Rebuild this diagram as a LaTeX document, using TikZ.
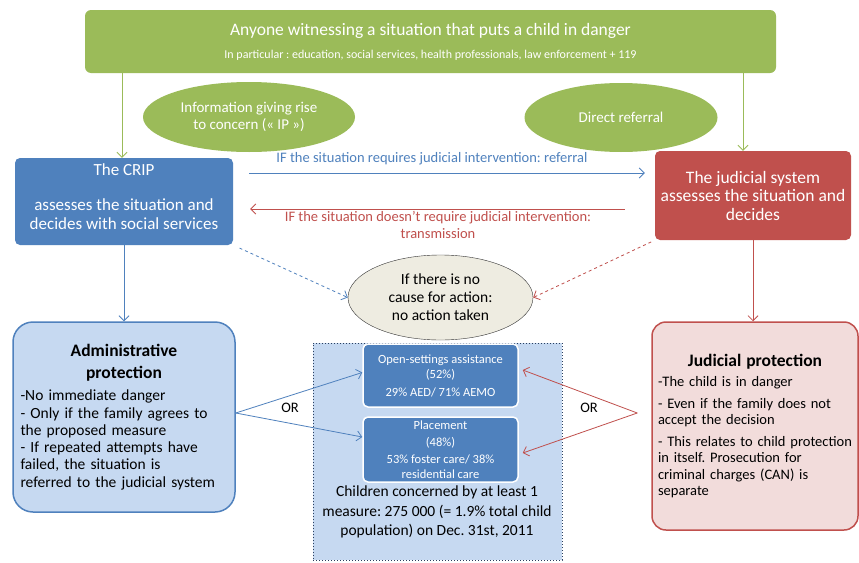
\documentclass[tikz,border=0pt]{standalone}
\usepackage{fontspec}
\setmainfont{Carlito}
\frenchspacing
\usetikzlibrary{shapes.geometric, arrows.meta, positioning}
\definecolor{leaf}{HTML}{9BBB59}
\definecolor{cripblue}{HTML}{4F81BD}
\definecolor{courtred}{HTML}{C0504D}
\definecolor{adminbg}{HTML}{C6D9F1}
\definecolor{courtbg}{HTML}{F2DCDB}
\definecolor{nullbg}{HTML}{EEECE1}
\definecolor{panelrim}{HTML}{2A3F5F}

\begin{document}
\begin{tikzpicture}[x=1pt, y=-1pt,
    box/.style={rectangle, rounded corners=5pt, text=white, align=center,
                font=\fontsize{17}{19}\selectfont},
    oval/.style={ellipse, fill=leaf, text=white, align=center,
                 font=\fontsize{15}{17}\selectfont},
    card/.style={rectangle, rounded corners=5pt, fill=cripblue, draw=white, line width=1.5pt,
                 text=white, align=center, minimum width=155pt, font=\fontsize{12.5}{15}\selectfont},
    plan/.style={rectangle, line width=1.5pt, align=left, font=\fontsize{15.5}{17.3}\selectfont},
    ba/.style={-{Straight Barb[length=5pt, width=10pt]}, color=cripblue, line width=0.8pt},
    ra/.style={-{Straight Barb[length=5pt, width=10pt]}, color=courtred, line width=0.8pt},
    ga/.style={-{Straight Barb[length=5pt, width=10pt]}, color=leaf, line width=0.8pt}
]
\useasboundingbox[fill=white] (0,0) rectangle (859,562);

% top row
\node[box, fill=leaf, rounded corners=6pt, minimum width=691pt, minimum height=63pt] (top) at (430.5,41.5)
  {{\fontsize{17.5}{18}\selectfont Anyone witnessing a situation that puts a child in danger}\\[4pt]
   {\fontsize{12}{12}\selectfont In particular : education, social services, health professionals, law enforcement + 119}};
\node[oval, minimum width=212pt, minimum height=70pt] (ip) at (249,117) {Information giving rise\\to concern (« IP »)};
\node[oval, minimum width=193pt, minimum height=69pt] (direct) at (621,117.5) {Direct referral};

% deciding bodies
\node[box, fill=cripblue, minimum width=218pt, minimum height=87pt] (crip) at (124,201.5)
  {The CRIP\\[16pt]assesses the situation and\\decides with social services\\[-9pt]\mbox{}};
\node[box, fill=courtred, minimum width=196pt, minimum height=89pt, font=\fontsize{17.5}{18.5}\selectfont] (jud) at (753,195.5)
  {The judicial system\\assesses the situation and\\decides};
\node[ellipse, draw=black!80, fill=nullbg, minimum width=185pt, minimum height=85pt, align=center,
      inner sep=1pt, font=\fontsize{15.5}{18}\selectfont] (noact) at (440.5,297.5) {If there is no\\cause for action:\\no action taken};

% protection
\node[plan, draw=cripblue, fill=adminbg, rounded corners=20pt, minimum width=222pt, minimum height=190pt,
      text width=207pt] (admin) at (124,417)
  {{\centering\bfseries\fontsize{17.5}{22}\selectfont Administrative\\protection\par}\vspace{5pt}
   -No immediate danger\\
   - Only if the family agrees to\\
   the proposed measure\\
   - If repeated attempts have\\
   failed, the situation is\\
   referred to the judicial system};
\node[plan, draw=courtred, fill=courtbg, rounded corners=14pt, minimum width=206pt, minimum height=208pt,
      text width=194pt, font=\fontsize{14.5}{16.5}\selectfont] (jp) at (755,426)
  {{\centering\bfseries\fontsize{17.5}{22}\selectfont Judicial protection\par}\vspace{4pt}
   -The child is in danger\\[5pt]
   - Even if the family does not\\
   accept the decision\\[5pt]
   - This relates to child protection\\
   in itself. Prosecution for\\
   criminal charges (CAN) is\\
   separate};

% measures
\node[draw=panelrim, dotted, line width=1pt, fill=adminbg, minimum width=249pt, minimum height=217pt] (panel) at (437.5,451.5) {};
\node[card, minimum height=63pt] (open) at (440.5,375.5)
  {Open-settings assistance\\(52\%)\\[3pt]29\% AED/ 71\% AEMO};
\node[card, minimum height=65pt] (place) at (440.5,449.5)
  {Placement\\[2pt](48\%)\\[2pt]53\% foster care/ 38\%\\residential care};
\node[align=center, font=\fontsize{15.5}{19.5}\selectfont] (count) at (437,512)
  {Children concerned by at least 1\\measure: 275 000 (= 1.9\% total child\\population) on Dec. 31st, 2011};
\node[font=\fontsize{14.5}{14}\selectfont] (orleft) at (290,408) {OR};
\node[font=\fontsize{14.5}{14}\selectfont] (orright) at (589,408) {OR};

% connectors
\draw[ga] ([xshift=-2pt, yshift=85pt]crip.north) -- ([xshift=-2pt]crip.north);
\draw[ga] ([xshift=-10pt, yshift=78pt]jud.north) -- ([xshift=-10pt]jud.north);
\draw[ba, shorten <=16pt, shorten >=10pt] ([yshift=28.5pt]crip.east) --
  node[above=4pt, xshift=-12pt, text=cripblue, font=\fontsize{14.5}{14}\selectfont]
  {IF the situation requires judicial intervention: referral} ([yshift=22.5pt]jud.west);
\draw[ra, shorten <=30pt, shorten >=17pt] ([yshift=-13.5pt]jud.west) --
  node[below=-1pt, xshift=-6pt, text=courtred, align=center, font=\fontsize{14.5}{16.5}\selectfont]
  {IF the situation doesn’t require judicial intervention:\\transmission} ([yshift=-7.5pt]crip.east);
\draw[ba, dashed, shorten <=7pt] (crip.south east) -- (noact.west);
\draw[ra, dashed, shorten <=4pt] (jud.south west) -- (noact.east);
\draw[ba] (crip.south) -- (admin.north);
\draw[ra] (jud.south) -- (jud.south |- jp.north);
\draw[ba] ([yshift=4pt]admin.east) -- ([yshift=3pt]open.west);
\draw[ba] ([yshift=4pt]admin.east) -- ([yshift=12.5pt]place.west);
\draw[ra] ([xshift=-14pt, yshift=13pt]jp.west) -- ([xshift=4pt, yshift=5.5pt]open.east);
\draw[ra] ([xshift=-14pt, yshift=13pt]jp.west) -- ([xshift=4pt, yshift=-3.5pt]place.east);
\end{tikzpicture}
\end{document}
